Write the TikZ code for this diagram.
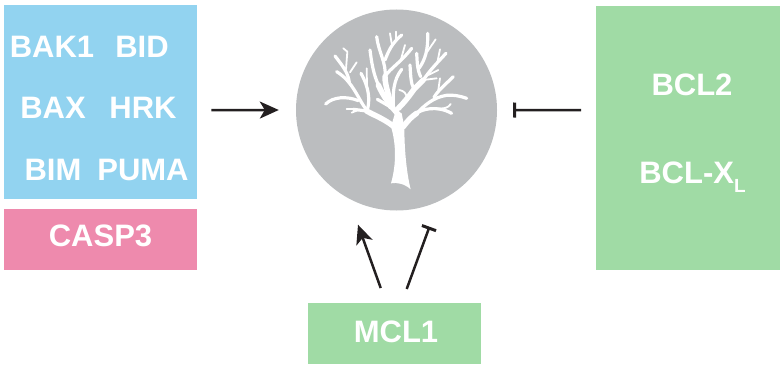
\documentclass[tikz,border=0pt]{standalone}
\usepackage{fontspec}
\setmainfont{Liberation Sans}
\usetikzlibrary{calc,arrows.meta}
\definecolor{boxblue}{HTML}{92D3F0}
\definecolor{boxpink}{HTML}{EE8AAD}
\definecolor{boxgreen}{HTML}{A0DBA5}
\definecolor{treegrey}{HTML}{BBBDBF}
\definecolor{inkblack}{HTML}{231F20}
\tikzset{
  box/.style={rectangle,inner sep=0pt,anchor=north west},
  protein/.style={anchor=base,inner sep=0pt,text=white,font=\fontsize{31}{32}\selectfont\bfseries},
  activate/.style={draw=inkblack,line width=2.5pt,-{Stealth[length=19pt,width=17pt,inset=5pt]}},
  inhibit/.style={draw=inkblack,line width=2.5pt,-{Bar[width=15pt,line width=3pt]}},
  limb/.style={draw=white,line width=5.5pt,line cap=round,line join=round},
  branch/.style={draw=white,line width=3.2pt,line cap=round,line join=round},
  twig/.style={draw=white,line width=1.8pt,line cap=round,line join=round},
}
\begin{document}
\begin{tikzpicture}[x=1pt,y=-1pt]
\useasboundingbox (0,0) rectangle (783,366);
\node[box,fill=boxblue,minimum width=193pt,minimum height=194pt] (proapoptotic) at (4,5) {};
\node[box,fill=boxpink,minimum width=193pt,minimum height=61pt] (caspase) at (4,209) {};
\node[box,fill=boxgreen,minimum width=184pt,minimum height=264pt] (antiapoptotic) at (596,6) {};
\node[box,fill=boxgreen,minimum width=173pt,minimum height=61pt] (mclbox) at (308,303) {};
\node[circle,fill=treegrey,inner sep=0pt,minimum size=201pt] (tree) at (396.5,110) {};

\node[protein] (bak) at (52,58) {BAK1};
\node[protein] (bid) at (142,58) {BID};
\node[protein] (bax) at (53,119) {BAX};
\node[protein] (hrk) at (143,119) {HRK};
\node[protein] (bim) at (53,180) {BIM};
\node[protein] (puma) at (143,180) {PUMA};
\node[protein] (casp) at (100.5,246) {CASP3};
\node[protein] (bcltwo) at (692,96) {BCL2};
\node[protein] (bclx) at (692.5,183) {BCL-X\raisebox{-9pt}{\fontsize{19}{19}\selectfont L}};
\node[protein] (mcl) at (396,342) {MCL1};

\draw[activate] ($ (proapoptotic.east)+(14,8)$) -- ($ (tree.west)-(17,0)$);
\draw[inhibit] ($ (antiapoptotic.west)-(15,28)$) -- ($ (tree.east)+(16,0)$);
\draw[activate] ($ (mclbox.north)+(-14,-15)$) -- ($ (tree.south)+(-38.5,14)$);
\draw[inhibit] ($ (mclbox.north)+(12,-14)$) -- ($ (tree.south)+(33,16)$);

% tree, coordinates taken at three times the size
\begin{scope}[shift={(290,10)},x=0.3333pt,y=-0.3333pt]
\fill[white] (303,520) .. controls (320,516) and (345,522) .. (362,538)
  .. controls (350,490) and (343,420) .. (343,350) -- (335,310) -- (318,300) -- (303,350)
  .. controls (318,400) and (320,460) .. (303,520);
\draw[limb] (312,350) .. controls (280,325) and (250,315) .. (230,303);
\draw[limb] (322,310) .. controls (300,285) and (280,260) .. (265,225);
\draw[limb] (340,350) .. controls (355,330) and (365,320) .. (380,310);
\draw[limb] (325,295) .. controls (345,275) and (360,255) .. (372,238) -- (400,210);
\draw[limb] (302,290) .. controls (300,260) and (285,230) .. (285,200);
\draw[branch] (230,303) -- (190,298);
\draw[twig] (190,298) -- (170,298);
\draw[twig] (205,300) -- (185,308);
\draw[branch] (232,300) .. controls (240,270) and (238,235) .. (213,190);
\draw[twig] (231,225) -- (230,175);
\draw[branch] (230,300) .. controls (205,270) and (190,215) .. (140,185);
\draw[branch] (205,272) .. controls (170,258) and (130,260) .. (107,282);
\draw[branch] (178,218) .. controls (175,190) and (160,170) .. (135,138);
\draw[twig] (168,178) -- (172,125) -- (160,115);
\draw[twig] (180,187) -- (200,157);
\draw[branch] (265,225) .. controls (250,190) and (245,160) .. (240,120);
\draw[branch] (285,200) .. controls (300,175) and (330,160) .. (365,115);
\draw[branch] (285,200) .. controls (290,160) and (265,125) .. (260,80);
\draw[branch] (285,150) .. controls (295,125) and (305,100) .. (335,75);
\draw[twig] (305,100) -- (300,70);
\draw[twig] (318,88) -- (318,65);
\draw[twig] (333,148) -- (345,105);
\draw[branch] (310,290) .. controls (308,250) and (310,210) .. (335,178);
\draw[branch] (262,268) -- (300,290);
\draw[branch] (380,310) .. controls (395,298) and (440,285) .. (485,310);
\draw[twig] (440,296) .. controls (460,296) and (475,295) .. (482,282);
\draw[branch] (380,310) .. controls (405,285) and (430,262) .. (470,256) .. controls (490,254) and (510,258) .. (530,265);
\draw[branch] (432,262) .. controls (445,240) and (470,220) .. (490,200);
\draw[twig] (445,240) -- (450,205);
\draw[branch] (400,210) .. controls (420,180) and (445,155) .. (468,130);
\draw[twig] (442,158) -- (450,118);
\draw[branch] (372,238) .. controls (362,220) and (362,195) .. (360,165);
\draw[branch] (392,200) .. controls (380,175) and (382,150) .. (380,130);
\draw[branch] (387,175) .. controls (405,150) and (415,120) .. (413,70);
\draw[twig] (412,125) -- (437,88);
\draw[twig] (400,210) -- (440,205);
\draw[twig] (415,195) -- (445,180);
\draw[twig] (350,268) .. controls (352,250) and (340,242) .. (328,240);
\end{scope}
\end{tikzpicture}
\end{document}
